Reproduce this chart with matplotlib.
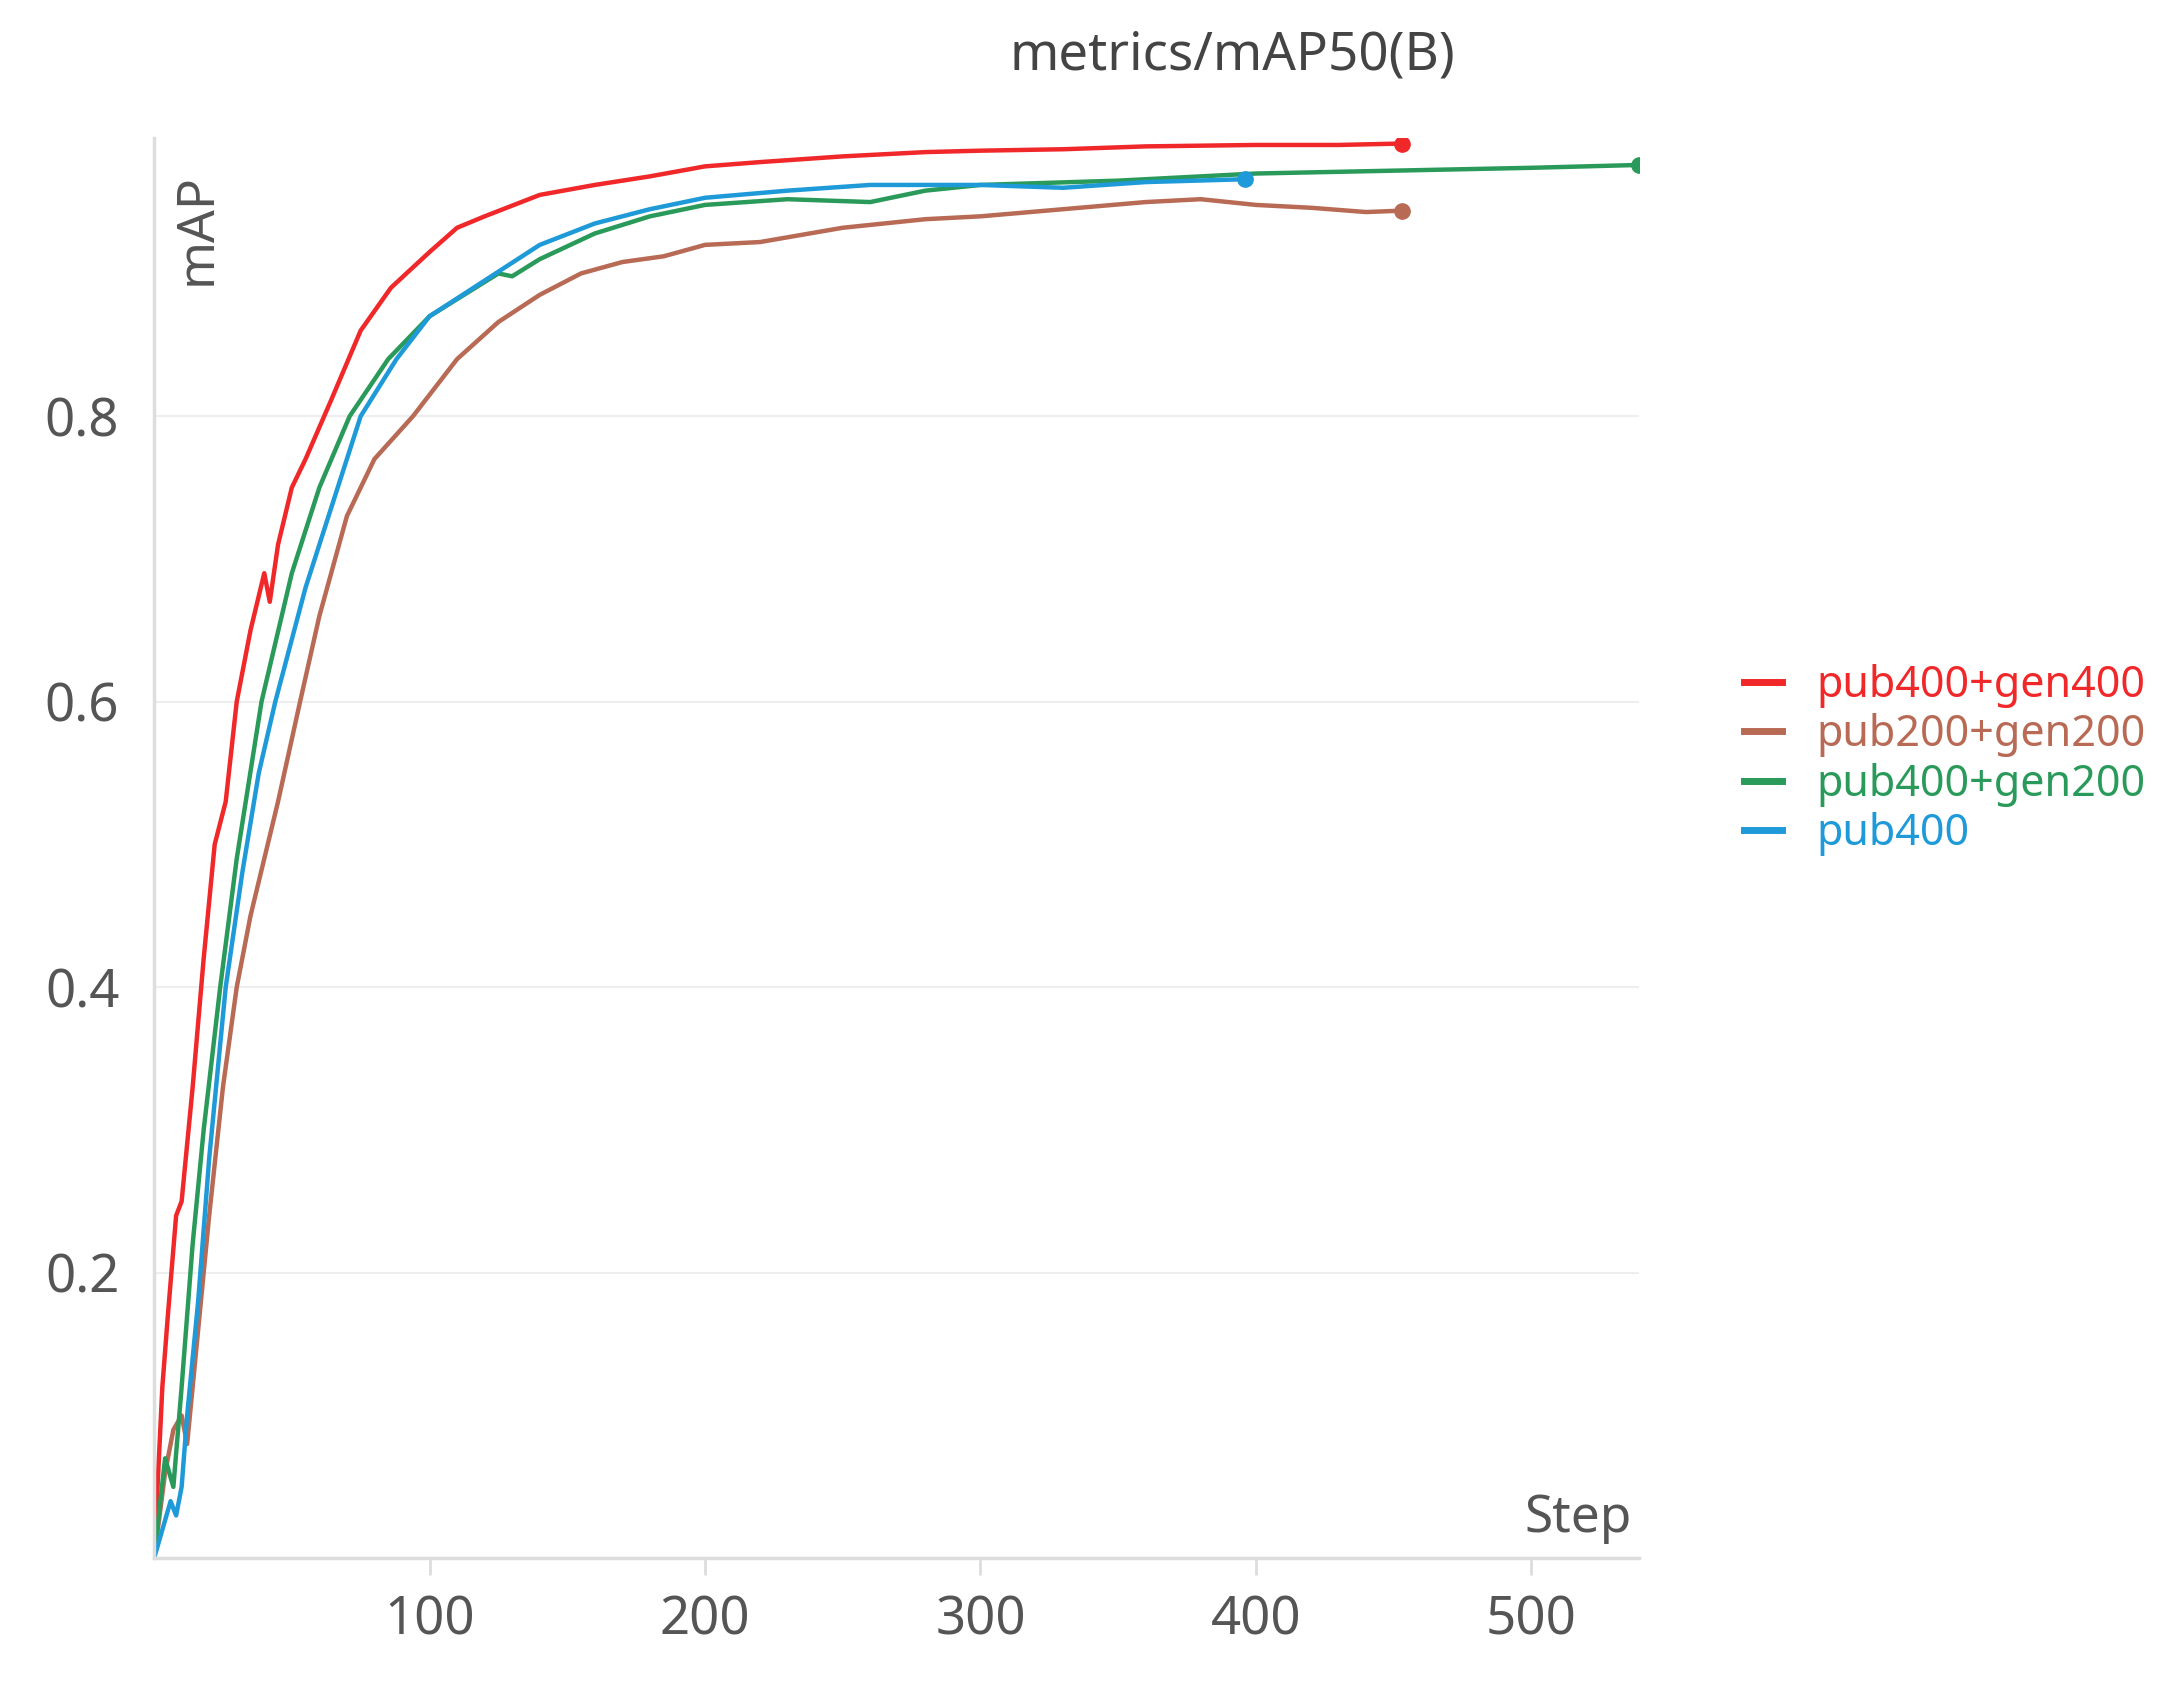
import matplotlib.pyplot as plt
from matplotlib.lines import Line2D

plt.rcParams['font.family'] = ['Noto Sans', 'DejaVu Sans']

names = ['pub400+gen400', 'pub200+gen200', 'pub400+gen200', 'pub400']
colors = ['#f0282a', '#b86a55', '#2a9a5a', '#1f9ad8']

red_x = [0, 3, 5, 8, 10, 14, 18, 22, 26, 30, 35, 40, 42, 45, 50, 55, 64, 75, 86, 100, 110, 120, 140, 160, 180, 200, 220, 250, 280, 300, 330, 360, 400, 430, 453]
red_y = [0.0, 0.12, 0.17, 0.24, 0.25, 0.33, 0.42, 0.50, 0.53, 0.60, 0.65, 0.69, 0.67, 0.71, 0.75, 0.77, 0.81, 0.86, 0.89, 0.915, 0.932, 0.940, 0.955, 0.962, 0.968, 0.975, 0.978, 0.982, 0.985, 0.986, 0.987, 0.989, 0.990, 0.990, 0.991]

brown_x = [0, 4, 7, 10, 12, 15, 20, 25, 30, 35, 40, 45, 53, 60, 70, 80, 94, 110, 125, 140, 155, 170, 185, 200, 220, 250, 280, 300, 330, 360, 380, 400, 420, 440, 453]
brown_y = [0.0, 0.06, 0.09, 0.10, 0.08, 0.14, 0.24, 0.33, 0.40, 0.45, 0.49, 0.53, 0.60, 0.66, 0.73, 0.77, 0.80, 0.84, 0.866, 0.885, 0.90, 0.908, 0.912, 0.92, 0.922, 0.932, 0.938, 0.940, 0.945, 0.950, 0.952, 0.948, 0.946, 0.943, 0.944]

green_x = [0, 4, 7, 10, 14, 18, 24, 30, 39, 50, 60, 71, 85, 100, 115, 125, 130, 140, 160, 180, 200, 230, 260, 280, 300, 350, 400, 450, 500, 539]
green_y = [0.0, 0.07, 0.05, 0.12, 0.22, 0.30, 0.40, 0.49, 0.60, 0.69, 0.75, 0.80, 0.84, 0.87, 0.888, 0.90, 0.898, 0.91, 0.928, 0.94, 0.948, 0.952, 0.950, 0.958, 0.962, 0.965, 0.970, 0.972, 0.974, 0.976]

blue_x = [0, 3, 6, 8, 10, 12, 16, 20, 26, 32, 38, 44, 55, 65, 75, 88, 100, 120, 140, 160, 180, 200, 230, 260, 300, 330, 360, 396]
blue_y = [0.0, 0.02, 0.04, 0.03, 0.05, 0.10, 0.18, 0.28, 0.40, 0.48, 0.55, 0.60, 0.68, 0.74, 0.80, 0.84, 0.87, 0.895, 0.92, 0.935, 0.945, 0.953, 0.958, 0.962, 0.962, 0.960, 0.964, 0.966]

series = [(red_x, red_y), (brown_x, brown_y), (green_x, green_y), (blue_x, blue_y)]

fig = plt.figure(figsize=(21.58, 16.89), dpi=100)
ax = fig.add_axes([0.0714, 0.0774, 0.688, 0.841])

for (x, y), c, n in zip(series, colors, names):
  ax.plot(x, y, color=c, lw=3.2, label=n)
  ax.plot(x[-1], y[-1], 'o', color=c, ms=11)

ax.set_xlim(0, 539)
ax.set_ylim(0, 0.995)
ax.set_xticks([100, 200, 300, 400, 500])
ax.set_yticks([0.2, 0.4, 0.6, 0.8])
ax.tick_params(labelsize=38, colors='#555555', length=12, width=2, direction='out')
ax.tick_params(axis='y', length=0, pad=25)
ax.tick_params(axis='x', pad=14, color='#dddddd')
ax.grid(axis='y', color='#eeeeee', lw=1.5)
for s in ['top', 'right']:
  ax.spines[s].set_visible(False)
for s in ['left', 'bottom']:
  ax.spines[s].set_color('#dddddd')
  ax.spines[s].set_linewidth(2.5)

ax.text(0.012, 0.975, 'mAP', rotation=90, transform=ax.transAxes, fontsize=37, color='#555555', va='top', ha='left')
ax.text(0.995, 0.01, 'Step', transform=ax.transAxes, fontsize=37, color='#555555', va='bottom', ha='right')
fig.text(0.571, 0.967, 'metrics/mAP50(B)', fontsize=38, fontweight='bold', color='#444444', ha='center', va='center')

handles = [Line2D([], [], color=c, lw=5) for c in colors]
leg = fig.legend(handles, names, loc='center left', bbox_to_anchor=(0.8, 0.55), frameon=False,
                 fontsize=31, handlelength=0.9, labelspacing=0.12, handletextpad=0.8, borderaxespad=0)
for t, c in zip(leg.get_texts(), colors):
  t.set_color(c)

fig.savefig('out.png')
